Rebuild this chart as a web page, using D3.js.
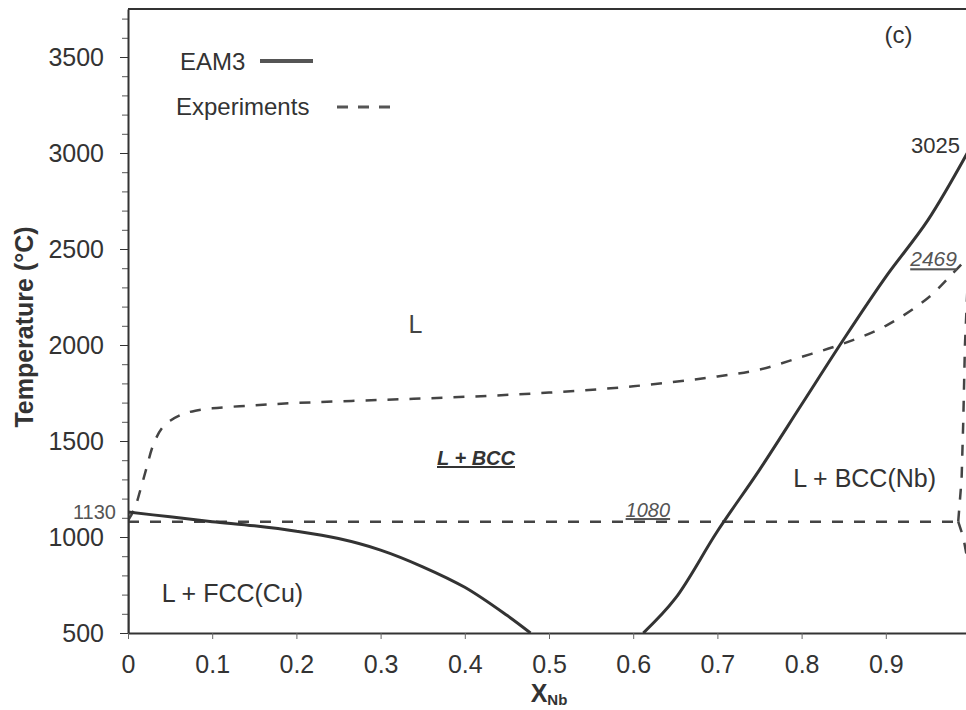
<!DOCTYPE html>
<html>
<head>
<meta charset="utf-8">
<script src="https://cdn.jsdelivr.net/npm/d3@7"></script>
<style>
  body { margin: 0; background: #fff; }
  svg { display: block; font-family: "Liberation Sans", Arial, Helvetica, sans-serif; }
</style>
</head>
<body>
<svg id="chart" width="966" height="710"></svg>
<script>
// tick values
const xTicks = [0, 0.1, 0.2, 0.3, 0.4, 0.5, 0.6, 0.7, 0.8, 0.9]
const yTicks = [500, 1000, 1500, 2000, 2500, 3000, 3500]
const yMinor = d3.range(500, 3751, 100)

// EAM3 (solid) curves, [x_Nb, T]
const eamCuLiquidus = [[0, 1130], [0.05, 1105], [0.1, 1080], [0.15, 1058], [0.2, 1030], [0.25, 992],
  [0.3, 932], [0.35, 845], [0.4, 738], [0.45, 592], [0.478, 500]]
const eamNbLiquidus = [[0.612, 500], [0.65, 680], [0.7, 1030], [0.75, 1350], [0.8, 1690], [0.85, 2030],
  [0.9, 2355], [0.95, 2650], [1.0, 3025]]
const eamCuSolidus = [[0, 500], [0, 1130]]

// Experiments (dashed) curves
const expLiquidus = [[0, 1085], [0.008, 1150], [0.015, 1250], [0.022, 1360], [0.03, 1480], [0.04, 1565],
  [0.05, 1605], [0.065, 1640], [0.08, 1658], [0.1, 1670], [0.15, 1686], [0.2, 1698], [0.3, 1714],
  [0.4, 1730], [0.5, 1752], [0.6, 1785], [0.7, 1836], [0.75, 1872], [0.8, 1938], [0.85, 2008],
  [0.9, 2100], [0.95, 2245], [0.98, 2375], [1.0, 2469]]
const expEutectic = [[0, 1080], [0.986, 1080]]
const expNbSolidus = [[0.986, 1080], [0.99, 1300], [0.992, 1600], [0.994, 2000], [0.997, 2300], [1.0, 2469]]
const expNbSolvus = [[0.986, 1080], [0.992, 1000], [0.997, 880]]

const svg = d3.select('#chart')
const x = d3.scaleLinear().domain([0, 1]).range([128, 970])
const y = d3.scaleLinear().domain([500, 3750]).range([633, 9])
const ink = '#333'

svg.append('defs').append('clipPath').attr('id', 'plot')
  .append('rect').attr('x', x(0)).attr('y', y(3750)).attr('width', x(1) - x(0)).attr('height', y(500) - y(3750))

// frame
svg.append('line').attr('x1', x(0)).attr('x2', x(1)).attr('y1', y(3750)).attr('y2', y(3750))
  .attr('stroke', ink).attr('stroke-width', 2)
svg.append('line').attr('x1', x(1)).attr('x2', x(1)).attr('y1', y(3750)).attr('y2', y(500))
  .attr('stroke', ink).attr('stroke-width', 2)

// y axis: minor then major
svg.append('g').attr('transform', `translate(${x(0)},0)`)
  .call(d3.axisLeft(y).tickValues(yMinor).tickSize(6).tickFormat(''))
  .call(g => g.select('.domain').remove())
  .selectAll('line').attr('stroke', '#555')
const yAxis = svg.append('g').attr('transform', `translate(${x(0)},0)`)
  .call(d3.axisLeft(y).tickValues(yTicks).tickSize(8).tickPadding(16).tickSizeOuter(0).tickFormat(d3.format('d')))
yAxis.select('.domain').attr('stroke', ink).attr('stroke-width', 2)
yAxis.selectAll('.tick line').attr('stroke', ink)
yAxis.selectAll('text').attr('font-size', 25).attr('fill', ink).attr('font-family', null)

// x axis
const xAxis = svg.append('g').attr('transform', `translate(0,${y(500)})`)
  .call(d3.axisBottom(x).tickValues(xTicks).tickSize(6).tickPadding(16).tickSizeOuter(0)
    .tickFormat(d => d === 0 ? '0' : d.toFixed(1)))
xAxis.select('.domain').attr('stroke', ink).attr('stroke-width', 2)
xAxis.selectAll('.tick line').attr('stroke', '#666')
xAxis.selectAll('text').attr('font-size', 25).attr('fill', ink).attr('font-family', null)

// extra 1130 label on y axis
svg.append('text').attr('x', x(0) - 12).attr('y', y(1130)).attr('dy', '0.35em')
  .attr('text-anchor', 'end').attr('font-size', 20).attr('fill', '#555').text('1130')

// axis titles
svg.append('text').attr('transform', `translate(33,${(y(500) + y(3750)) / 2 + 6}) rotate(-90)`)
  .attr('text-anchor', 'middle').attr('font-size', 25).attr('font-weight', 'bold').attr('fill', ink)
  .text('Temperature (°C)')
const xt = svg.append('text').attr('x', x(0.5)).attr('y', 702).attr('text-anchor', 'middle')
  .attr('font-weight', 'bold').attr('fill', ink)
xt.append('tspan').attr('font-size', 25).text('X')
xt.append('tspan').attr('font-size', 15).attr('dy', 3).text('Nb')

// curves
const line = d3.line().x(d => x(d[0])).y(d => y(d[1])).curve(d3.curveCatmullRom.alpha(0.5))
const straight = d3.line().x(d => x(d[0])).y(d => y(d[1]))
const plot = svg.append('g').attr('clip-path', 'url(#plot)')

const dashed = [[expLiquidus, line], [expEutectic, straight], [expNbSolidus, straight], [expNbSolvus, straight]]
dashed.forEach(([data, gen]) => {
  plot.append('path').attr('d', gen(data)).attr('fill', 'none')
    .attr('stroke', '#444').attr('stroke-width', 2.5).attr('stroke-dasharray', '11,11')
})
const solid = [[eamCuLiquidus, line], [eamNbLiquidus, line], [eamCuSolidus, straight]]
solid.forEach(([data, gen]) => {
  plot.append('path').attr('d', gen(data)).attr('fill', 'none')
    .attr('stroke', ink).attr('stroke-width', 3)
})

// legend
svg.append('text').attr('x', 180).attr('y', 70).attr('font-size', 24).attr('fill', '#333').text('EAM3')
svg.append('line').attr('x1', 260).attr('x2', 313).attr('y1', 61).attr('y2', 61)
  .attr('stroke', '#555').attr('stroke-width', 4)
svg.append('text').attr('x', 176).attr('y', 115).attr('font-size', 24).attr('fill', '#333').text('Experiments')
svg.append('line').attr('x1', 337).attr('x2', 390).attr('y1', 107).attr('y2', 107)
  .attr('stroke', '#555').attr('stroke-width', 3).attr('stroke-dasharray', '11,10')

// annotations
const note = (xv, tv, txt, opts = {}) => {
  const t = svg.append('text').attr('x', x(xv)).attr('y', y(tv))
    .attr('font-size', opts.size || 24).attr('fill', opts.color || '#333')
    .attr('text-anchor', opts.anchor || 'start').text(txt)
  if (opts.italic) t.attr('font-style', 'italic')
  if (opts.bold) t.attr('font-weight', 'bold')
  if (opts.underline) t.attr('text-decoration', 'underline')
  return t
}
note(0.915, 3575, '(c)', { anchor: 'middle' })
note(0.988, 3000, '3025', { anchor: 'end', size: 22 })
note(0.929, 2410, '2469', { size: 21, italic: true, underline: true, color: '#555' })
note(0.333, 2062, 'L', { size: 25, color: '#444' })
note(0.367, 1375, 'L + BCC', { size: 20, italic: true, bold: true, underline: true })
note(0.591, 1104, '1080', { size: 20, italic: true, underline: true, color: '#555' })
note(0.04, 661, 'L + FCC(Cu)', { size: 25 })
note(0.79, 1260, 'L + BCC(Nb)', { size: 25 })
</script>
</body>
</html>
